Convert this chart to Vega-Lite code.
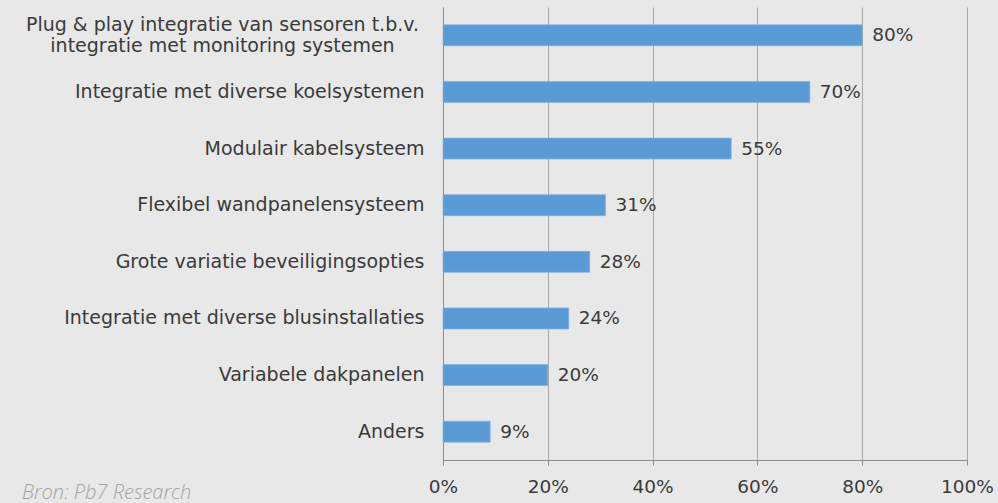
{
  "$schema": "https://vega.github.io/schema/vega-lite/v6.json",
  "autosize": {"type": "none"},
  "width": 524,
  "height": 453,
  "padding": {"left": 443, "top": 7, "right": 31, "bottom": 43},
  "background": "#e8e8e8",
  "title": {
    "text": "Bron: Pb7 Research",
    "orient": "bottom",
    "anchor": "start",
    "frame": "group",
    "dx": -421,
    "offset": 0,
    "dy": -13,
    "font": "Open Sans",
    "fontStyle": "italic",
    "fontWeight": 300,
    "fontSize": 20,
    "color": "#a4a4a4"
  },
  "data": {
    "values": [
      {"item": "Plug & play integratie van sensoren t.b.v.|integratie met monitoring systemen", "pct": 0.80},
      {"item": "Integratie met diverse koelsystemen", "pct": 0.70},
      {"item": "Modulair kabelsysteem", "pct": 0.55},
      {"item": "Flexibel wandpanelensysteem", "pct": 0.31},
      {"item": "Grote variatie beveiligingsopties", "pct": 0.28},
      {"item": "Integratie met diverse blusinstallaties", "pct": 0.24},
      {"item": "Variabele dakpanelen", "pct": 0.20},
      {"item": "Anders", "pct": 0.09}
    ]
  },
  "encoding": {
    "y": {
      "field": "item",
      "type": "nominal",
      "sort": null,
      "scale": {"paddingInner": 0.63, "paddingOuter": 0.315},
      "axis": {
        "title": null,
        "labelExpr": "split(datum.label, '|')",
        "labelLineHeight": 21,
        "labelOffset": {"condition": {"test": "indexof(datum.value, '|') >= 0", "value": -10}, "value": 0},
        "labelAlign": {"condition": {"test": "indexof(datum.value, '|') >= 0", "value": "center"}, "value": "right"},
        "labelPadding": {"condition": {"test": "indexof(datum.value, '|') >= 0", "value": 221}, "value": 19},
        "labelFont": "DejaVu Sans",
        "labelFontSize": 19,
        "labelColor": "#3a3a3a",
        "labelLimit": 500,
        "ticks": false,
        "domainColor": "#8c8c8c",
        "domainWidth": 1
      }
    },
    "x": {
      "field": "pct",
      "type": "quantitative",
      "scale": {"domain": [0, 1], "nice": false},
      "axis": {
        "title": null,
        "format": ".0%",
        "values": [0, 0.2, 0.4, 0.6, 0.8, 1],
        "labelFont": "DejaVu Sans",
        "labelFontSize": 18.5,
        "labelColor": "#3a3a3a",
        "labelPadding": 12,
        "tickSize": 5,
        "tickColor": "#8c8c8c",
        "domainColor": "#8c8c8c",
        "grid": true,
        "gridColor": "#a8a8a8",
        "labelFlush": false
      }
    }
  },
  "layer": [
    {
      "mark": {"type": "bar", "color": "#5b9bd5", "stroke": "#7fb0de", "strokeWidth": 0.7}
    },
    {
      "mark": {"type": "text", "align": "left", "baseline": "middle", "dx": 10, "font": "DejaVu Sans", "fontSize": 18.5, "color": "#3a3a3a"},
      "encoding": {"text": {"field": "pct", "type": "quantitative", "format": ".0%"}}
    }
  ],
  "config": {"view": {"stroke": null}}
}
